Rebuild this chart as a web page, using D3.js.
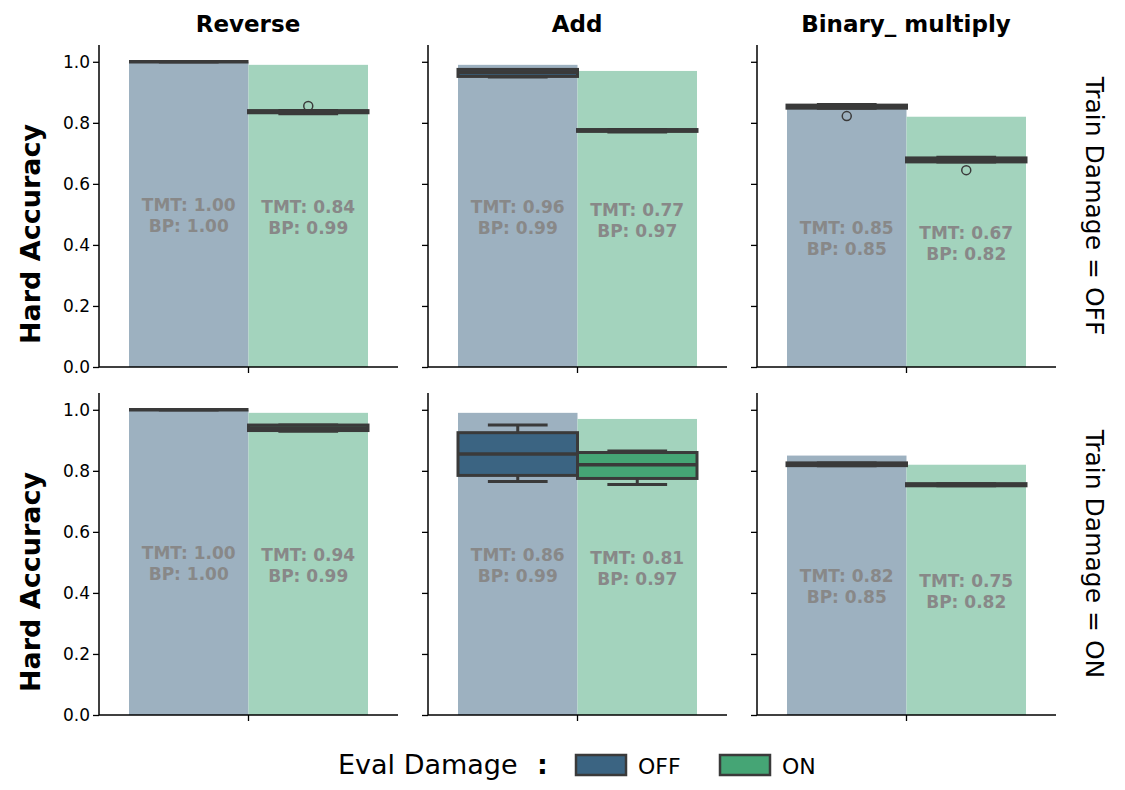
<!DOCTYPE html><html><head><meta charset="utf-8"><script src="https://cdn.jsdelivr.net/npm/d3@7"></script>
<style>body{margin:0;background:#fff}text{font-family:"DejaVu Sans",sans-serif}</style></head><body>
<svg id="c" width="1125" height="790"></svg>
<script>
const tasks=["Reverse","Add","Binary_ multiply"];
const rows=["Train  Damage = OFF","Train  Damage = ON"];
const evals=["OFF","ON"];
const yTicks=[0,0.2,0.4,0.6,0.8,1.0];
// BP bar values [task][eval]
const bp=[[1.00,0.99],[0.99,0.97],[0.85,0.82]];
// TMT medians for labels [row][task][eval]
const tmt=[[[1.00,0.84],[0.96,0.77],[0.85,0.67]],[[1.00,0.94],[0.86,0.81],[0.82,0.75]]];
// box stats [row][task][eval]: [wlo,q1,med,q3,whi,outliers]
const boxes=[
 [[[1.0,1.0,1.0,1.0,1.0,[]],[0.83,0.833,0.837,0.84,0.84,[0.855]]],
  [[0.95,0.952,0.965,0.975,0.975,[]],[0.77,0.772,0.775,0.778,0.778,[]]],
  [[0.848,0.848,0.853,0.858,0.86,[0.822]],[0.672,0.672,0.677,0.685,0.687,[0.645]]]],
 [[[1.0,1.0,1.0,1.0,1.0,[]],[0.93,0.932,0.94,0.95,0.95,[]]],
  [[0.765,0.785,0.855,0.925,0.95,[]],[0.755,0.775,0.82,0.86,0.865,[]]],
  [[0.817,0.817,0.82,0.826,0.826,[]],[0.751,0.751,0.754,0.758,0.758,[]]]]
];
const light=["#9db1c0","#a3d3bd"], dark=["#3b6482","#45a575"];
const svg=d3.select("#c");
const colX=[99,428,757], rowY=[45,393], pw=299, ph=322;
rows.forEach((rn,r)=>{
 tasks.forEach((tn,t)=>{
  const g=svg.append("g").attr("transform",`translate(${colX[t]},${rowY[r]})`);
  const y=d3.scaleLinear().domain([0,1.055]).range([ph,0]);
  const x=d3.scaleBand().domain(evals).range([30,269]);
  evals.forEach((e,i)=>{
   g.append("rect").attr("x",x(e)).attr("width",x.bandwidth()).attr("y",y(bp[t][i])).attr("height",y(0)-y(bp[t][i])).attr("fill",light[i]);
  });
  evals.forEach((e,i)=>{
   const b=boxes[r][t][i], x0=x(e), w=x.bandwidth(), cx=x0+w/2;
   const st="#3a3a3a";
   g.append("line").attr("x1",cx).attr("x2",cx).attr("y1",y(b[0])).attr("y2",y(b[1])).attr("stroke",st).attr("stroke-width",3);
   g.append("line").attr("x1",cx).attr("x2",cx).attr("y1",y(b[3])).attr("y2",y(b[4])).attr("stroke",st).attr("stroke-width",3);
   [b[0],b[4]].forEach(v=>g.append("line").attr("x1",cx-w/4).attr("x2",cx+w/4).attr("y1",y(v)).attr("y2",y(v)).attr("stroke",st).attr("stroke-width",3));
   g.append("rect").attr("x",x0).attr("width",w).attr("y",y(b[3])).attr("height",Math.max(0,y(b[1])-y(b[3]))).attr("fill",dark[i]).attr("stroke",st).attr("stroke-width",3);
   g.append("line").attr("x1",x0).attr("x2",x0+w).attr("y1",y(b[2])).attr("y2",y(b[2])).attr("stroke",st).attr("stroke-width",3.5);
   b[5].forEach(o=>g.append("circle").attr("cx",cx).attr("cy",y(o)).attr("r",4.5).attr("fill","none").attr("stroke",st).attr("stroke-width",1.5));
   const ty=y(bp[t][i]/2);
   g.append("text").attr("x",cx).attr("y",ty-3).attr("text-anchor","middle").style("font-size","17px").attr("font-weight","bold").attr("fill","#888").text("TMT: "+tmt[r][t][i].toFixed(2));
   g.append("text").attr("x",cx).attr("y",ty+18).attr("text-anchor","middle").style("font-size","17px").attr("font-weight","bold").attr("fill","#888").text("BP: "+bp[t][i].toFixed(2));
  });
  const ya=g.append("g").call(d3.axisLeft(y).tickValues(yTicks).tickSize(6).tickFormat(t===0?d3.format(".1f"):""));
  ya.selectAll("text").style("font-size","17px").attr("fill","#000");
  const xa=g.append("g").attr("transform",`translate(0,${ph})`).call(d3.axisBottom(x).tickValues(["ON"]).tickSize(6).tickFormat(""));
  xa.selectAll(".tick").attr("transform",`translate(${x("OFF")+x.bandwidth()},0)`);
  [ya,xa].forEach(a=>{a.select(".domain").attr("stroke-width",1.5).attr("d",a===ya?`M0,0V${ph}`:`M0,0H${pw}`);a.selectAll("line").attr("stroke-width",1.3);});
  if(r===0) svg.append("text").attr("x",colX[t]+149).attr("y",32).attr("text-anchor","middle").style("font-size","23px").attr("font-weight","bold").text(tn);
 });
 svg.append("text").attr("transform",`translate(1086,${rowY[r]+ph/2}) rotate(90)`).attr("text-anchor","middle").style("font-size","25px").text(rn);
 svg.append("text").attr("transform",`translate(40,${rowY[r]+ph/2+28}) rotate(-90)`).attr("text-anchor","middle").style("font-size","27px").attr("font-weight","bold").text("Hard Accuracy");
});
svg.append("text").attr("x",338).attr("y",774).style("font-size","27px").text("Eval Damage");
svg.append("text").attr("x",537).attr("y",774).style("font-size","27px").attr("font-weight","bold").text(":");
evals.forEach((e,i)=>{
 const lx=[576,720][i];
 svg.append("rect").attr("x",lx).attr("y",755).attr("width",50).attr("height",20).attr("fill",dark[i]).attr("stroke","#3a3a3a").attr("stroke-width",2.5);
 svg.append("text").attr("x",lx+62).attr("y",774).style("font-size",22+"px").text(e);
});
</script></body></html>
